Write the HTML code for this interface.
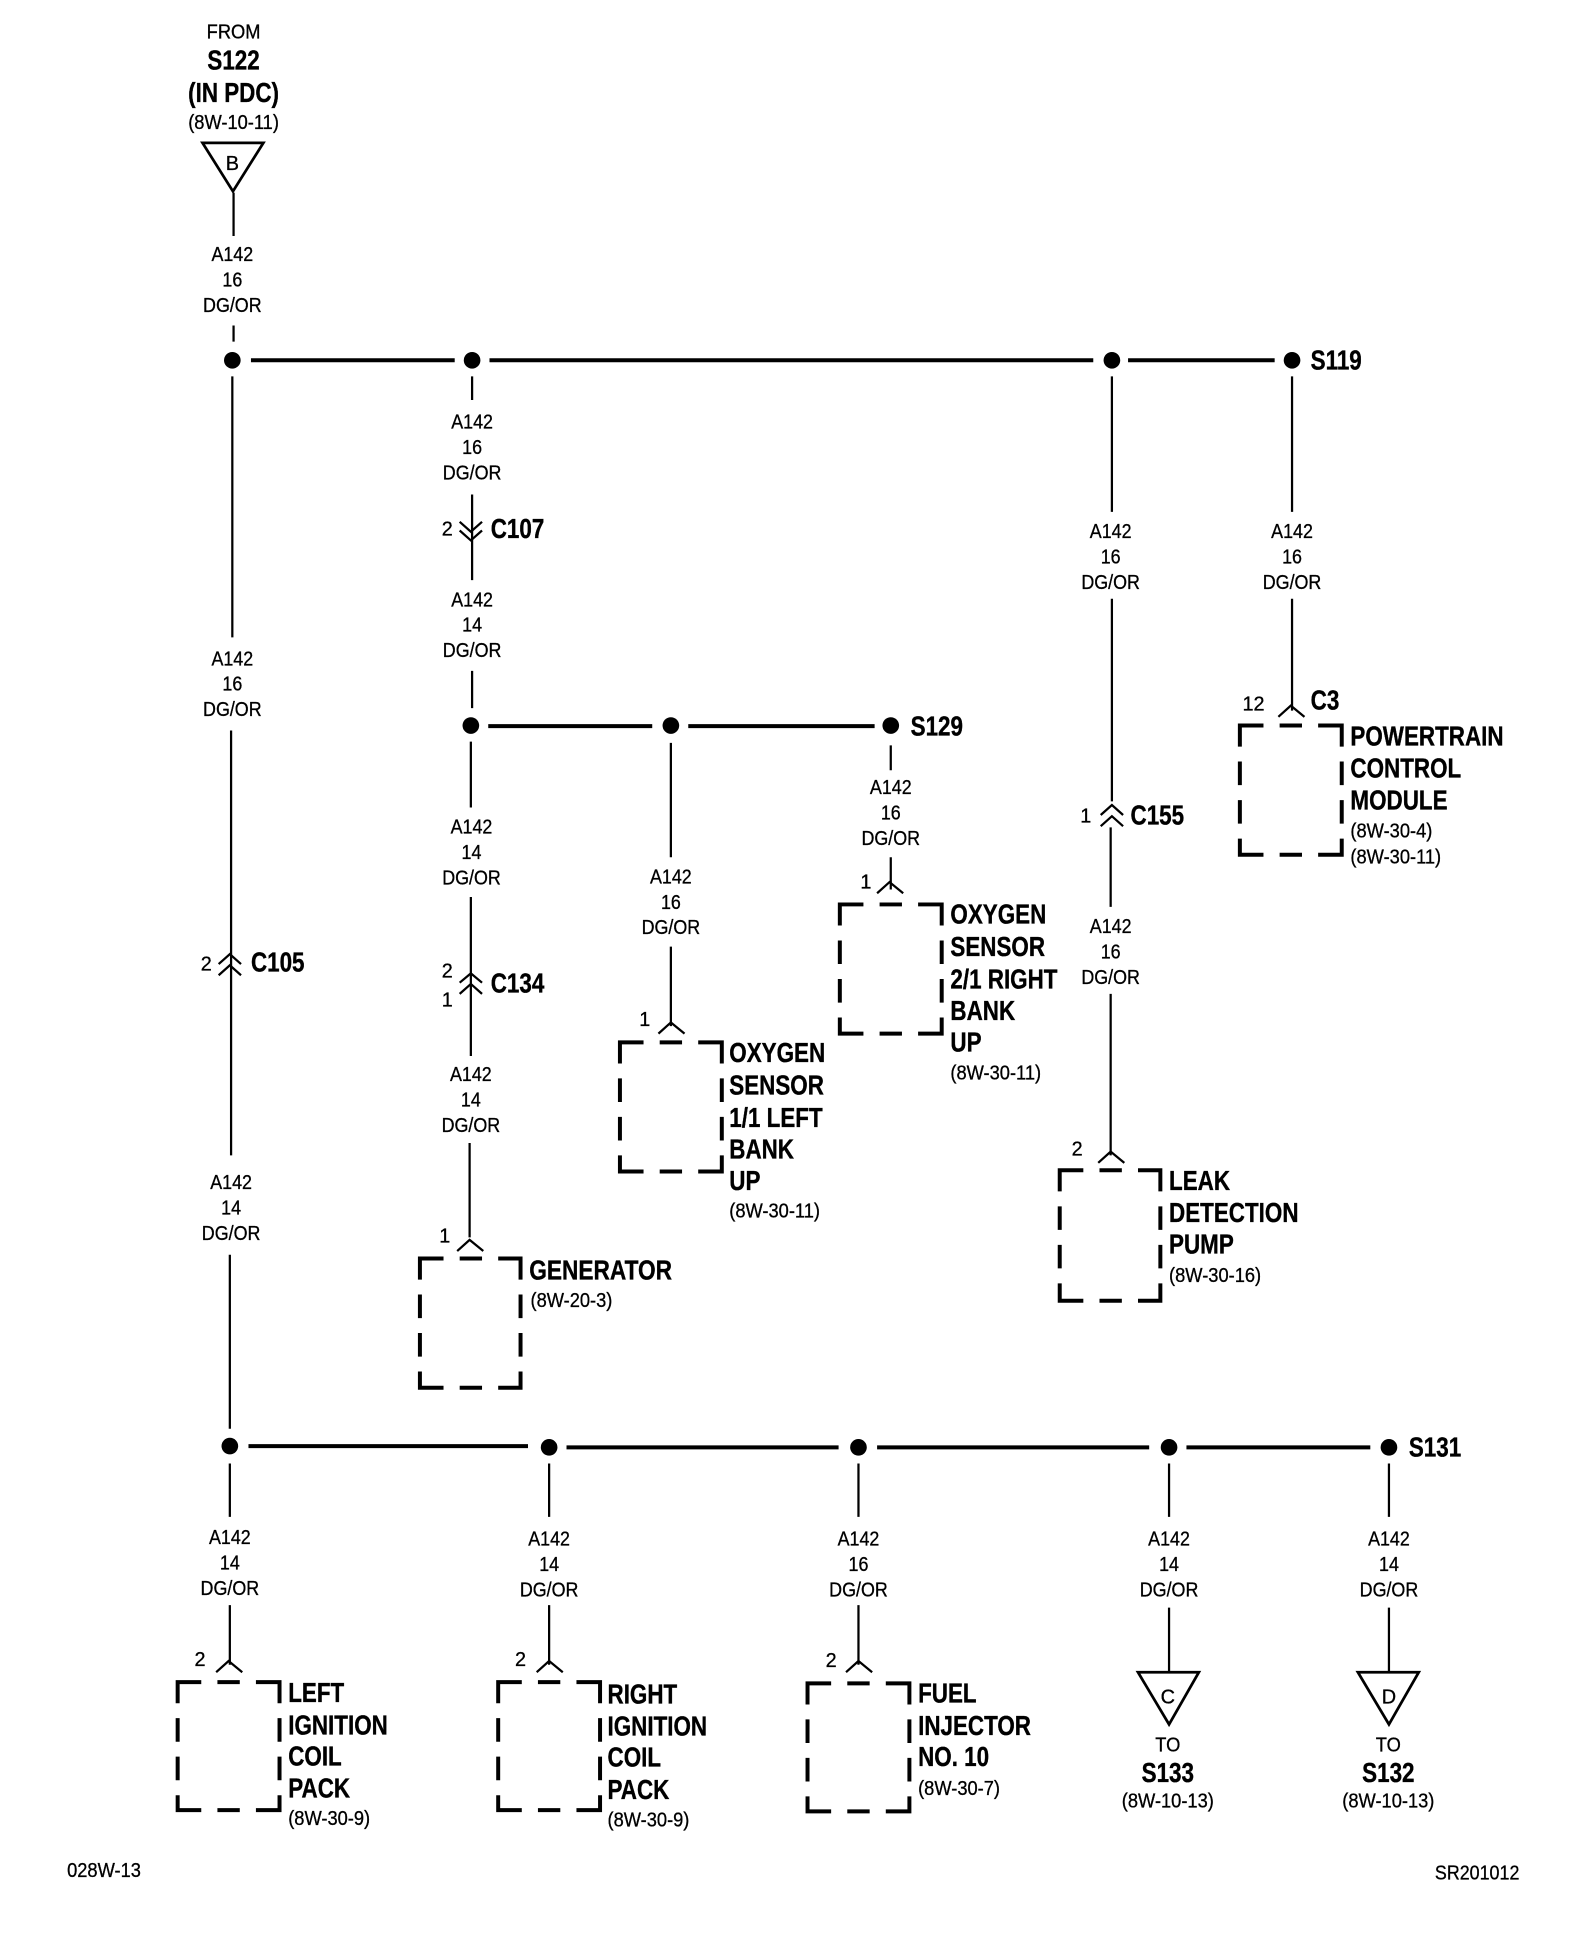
<!DOCTYPE html>
<html><head><meta charset="utf-8"><style>
html,body{margin:0;padding:0;background:#fff}
svg{display:block}
text{font-family:"Liberation Sans",Arial,sans-serif;fill:#000}
.r text,text.r{font-size:16px;stroke:#000;stroke-width:.25}
.b text{font-size:22px;font-weight:bold;stroke:#000;stroke-width:.3}
.c text{text-anchor:middle}
.w{stroke:#000;stroke-width:1.8;fill:none}
.h{stroke:#000;stroke-width:3.2;fill:none}
.t{stroke:#000;stroke-width:2.2;fill:none}
.bx{stroke:#000;stroke-width:3.2;fill:none}
</style></head><body>
<svg xmlns="http://www.w3.org/2000/svg" width="1584" height="1948" viewBox="0 0 1275 1568">
<rect width="1275" height="1568" fill="#fff"/>

<!-- horizontal buses -->
<path class="h" d="M202 290H366M394 290H880M908 290H1026M393 584.500H525M554 584.500H704M200 1164H425M456 1165H675M706 1165H925M955 1165H1103"/>
<g fill="#000">
<circle cx="187" cy="290" r="6.7"/><circle cx="380" cy="290" r="6.7"/><circle cx="895" cy="290" r="6.7"/><circle cx="1040" cy="290" r="6.7"/>
<circle cx="379" cy="584" r="6.7"/><circle cx="540" cy="584" r="6.7"/><circle cx="717" cy="584" r="6.7"/>
<circle cx="185" cy="1164" r="6.7"/><circle cx="442" cy="1165" r="6.7"/><circle cx="691" cy="1165" r="6.7"/><circle cx="941" cy="1165" r="6.7"/><circle cx="1118" cy="1165" r="6.7"/>
</g>

<!-- vertical wires -->
<path class="w" d="M188 155V190M188 262V275M187 303V513M186 588V930M185 1010V1150
M380 303V322M380 398V467M380 540V570M379 597V650M379 722V850M378 920V996
M540 598V690M540 762V826M717 600V620M717 690V716
M895 303V412M895 482V645M894 666V730M894 800V930M1040 303V412M1040 482V572
M185 1178V1221M442 1178V1221M691 1178V1221M941 1178V1221M1118 1178V1221
M185 1292V1340M442 1292V1340M691 1292V1340M941 1294V1346M1118 1294V1346"/>

<!-- connector chevrons -->
<path class="w" d="M370 420L379 428L388 420M370 427L379 435L388 427
M176 776L185 768L194 776M176 785L185 777L194 785
M370 791L379 783.5L388 791M370 800L379 792L388 800
M886 656L895 648L904 656M886 665L895 657L904 665
M530 832L540 823L551 832M706 719L716 710L727 719M884 936L894 927L905 936M1029 577L1039 568L1050 577
M368 1007L378 998L389 1007M174 1346L184 1337L195 1346M432 1346L442 1337L453 1346M681 1346L691 1337L702 1346"/>

<!-- triangles -->
<path class="t" d="M163 115H212L187.5 154ZM916 1346H965L941 1388ZM1093 1346H1142L1118 1388Z"/>

<!-- dashed boxes -->
<g class="bx">
<path transform="translate(338 1013)" d="M0 17V0H19M32 0H50M63 0H81V17M81 29V48M81 60V79M81 91V104H63M50 104H32M19 104H0V91M0 79V60M0 48V29"/>
<path transform="translate(499 839)" d="M0 17V0H19M32 0H50M63 0H82V17M82 29V48M82 60V79M82 91V104H63M50 104H32M19 104H0V91M0 79V60M0 48V29"/>
<path transform="translate(676 728)" d="M0 17V0H19M32 0H50M63 0H82V17M82 29V48M82 60V79M82 91V104H63M50 104H32M19 104H0V91M0 79V60M0 48V29"/>
<path transform="translate(853 942)" d="M0 17V0H19M32 0H50M63 0H81V17M81 29V48M81 60V79M81 91V105H63M50 105H32M19 105H0V91M0 79V60M0 48V29"/>
<path transform="translate(998 584)" d="M0 17V0H19M32 0H50M63 0H82V17M82 29V48M82 60V79M82 91V104H63M50 104H32M19 104H0V91M0 79V60M0 48V29"/>
<path transform="translate(143 1354)" d="M0 17V0H19M32 0H50M63 0H82V17M82 29V48M82 60V79M82 91V103H63M50 103H32M19 103H0V91M0 79V60M0 48V29"/>
<path transform="translate(401 1354)" d="M0 17V0H19M32 0H50M63 0H82V17M82 29V48M82 60V79M82 91V103H63M50 103H32M19 103H0V91M0 79V60M0 48V29"/>
<path transform="translate(650 1355)" d="M0 17V0H19M32 0H50M63 0H82V17M82 29V48M82 60V79M82 91V103H63M50 103H32M19 103H0V91M0 79V60M0 48V29"/>
</g>

<!-- wire labels -->
<g class="r c">
<g transform="translate(187 210) scale(.9 1)"><text>A142</text><text y="20.5">16</text><text y="41">DG/OR</text></g>
<g transform="translate(380 345) scale(.9 1)"><text>A142</text><text y="20.5">16</text><text y="41">DG/OR</text></g>
<g transform="translate(380 488) scale(.9 1)"><text>A142</text><text y="20.5">14</text><text y="41">DG/OR</text></g>
<g transform="translate(379.500 671) scale(.9 1)"><text>A142</text><text y="20.5">14</text><text y="41">DG/OR</text></g>
<g transform="translate(379 870) scale(.9 1)"><text>A142</text><text y="20.5">14</text><text y="41">DG/OR</text></g>
<g transform="translate(187 535.500) scale(.9 1)"><text>A142</text><text y="20.5">16</text><text y="41">DG/OR</text></g>
<g transform="translate(186 957) scale(.9 1)"><text>A142</text><text y="20.5">14</text><text y="41">DG/OR</text></g>
<g transform="translate(540 711) scale(.9 1)"><text>A142</text><text y="20.5">16</text><text y="41">DG/OR</text></g>
<g transform="translate(717 639) scale(.9 1)"><text>A142</text><text y="20.5">16</text><text y="41">DG/OR</text></g>
<g transform="translate(894 433) scale(.9 1)"><text>A142</text><text y="20.5">16</text><text y="41">DG/OR</text></g>
<g transform="translate(1040 433) scale(.9 1)"><text>A142</text><text y="20.5">16</text><text y="41">DG/OR</text></g>
<g transform="translate(894 751) scale(.9 1)"><text>A142</text><text y="20.5">16</text><text y="41">DG/OR</text></g>
<g transform="translate(185 1243) scale(.9 1)"><text>A142</text><text y="20.5">14</text><text y="41">DG/OR</text></g>
<g transform="translate(442 1244) scale(.9 1)"><text>A142</text><text y="20.5">14</text><text y="41">DG/OR</text></g>
<g transform="translate(691 1244) scale(.9 1)"><text>A142</text><text y="20.5">16</text><text y="41">DG/OR</text></g>
<g transform="translate(941 1244) scale(.9 1)"><text>A142</text><text y="20.5">14</text><text y="41">DG/OR</text></g>
<g transform="translate(1118 1244) scale(.9 1)"><text>A142</text><text y="20.5">14</text><text y="41">DG/OR</text></g>

<!-- pin numbers -->
<text x="360" y="431">2</text><text x="166" y="781">2</text><text x="360" y="787">2</text><text x="360" y="810">1</text>
<text x="874" y="662">1</text><text x="519" y="826">1</text><text x="697" y="715">1</text><text x="867" y="930">2</text>
<text x="1009" y="572">12</text><text x="358" y="1000">1</text><text x="161" y="1341">2</text><text x="419" y="1341">2</text><text x="669" y="1342">2</text>

<!-- triangle letters -->
<text x="187" y="137">B</text><text x="940" y="1371">C</text><text x="1118" y="1371">D</text>

<!-- off-page refs -->
<g transform="translate(188 31) scale(.92 1)"><text>FROM</text></g>
<g transform="translate(188 104) scale(.92 1)"><text>(8W-10-11)</text></g>
<g transform="translate(940 1410) scale(.92 1)"><text>TO</text><text y="45">(8W-10-13)</text></g>
<g transform="translate(1117.500 1410) scale(.92 1)"><text>TO</text><text y="45">(8W-10-13)</text></g>
</g>

<g class="b c">
<g transform="translate(188 56) scale(.82 1)"><text>S122</text><text y="26">(IN PDC)</text></g>
<g transform="translate(940 1434.500) scale(.82 1)"><text>S133</text></g>
<g transform="translate(1117.500 1434.500) scale(.82 1)"><text>S132</text></g>
</g>

<!-- bold left labels -->
<g class="b">
<g transform="translate(1055 297.500) scale(.82 1)"><text>S119</text></g>
<g transform="translate(733 592) scale(.82 1)"><text>S129</text></g>
<g transform="translate(1134 1172.500) scale(.82 1)"><text>S131</text></g>
<g transform="translate(395 433) scale(.82 1)"><text>C107</text></g>
<g transform="translate(202 782) scale(.82 1)"><text>C105</text></g>
<g transform="translate(395 799) scale(.82 1)"><text>C134</text></g>
<g transform="translate(910 663.500) scale(.82 1)"><text>C155</text></g>
<g transform="translate(1055 571) scale(.82 1)"><text>C3</text></g>
<g transform="translate(426 1030) scale(.83 1)"><text>GENERATOR</text></g>
<g transform="translate(587 855) scale(.82 1)"><text>OXYGEN</text><text y="26">SENSOR</text><text y="52">1/1 LEFT</text><text y="77.500">BANK</text><text y="103">UP</text></g>
<g transform="translate(765 743.500) scale(.82 1)"><text>OXYGEN</text><text y="26">SENSOR</text><text y="52">2/1 RIGHT</text><text y="77.500">BANK</text><text y="103">UP</text></g>
<g transform="translate(941 958) scale(.82 1)"><text>LEAK</text><text y="25.500">DETECTION</text><text y="51">PUMP</text></g>
<g transform="translate(1087 600) scale(.82 1)"><text>POWERTRAIN</text><text y="26">CONTROL</text><text y="51.500">MODULE</text></g>
<g transform="translate(232 1370) scale(.82 1)"><text>LEFT</text><text y="26">IGNITION</text><text y="51">COIL</text><text y="77">PACK</text></g>
<g transform="translate(489 1371) scale(.82 1)"><text>RIGHT</text><text y="26">IGNITION</text><text y="51">COIL</text><text y="77">PACK</text></g>
<g transform="translate(739 1370.500) scale(.82 1)"><text>FUEL</text><text y="26">INJECTOR</text><text y="51">NO. 10</text></g>
</g>

<!-- regular left labels -->
<g class="r">
<g transform="translate(427 1052) scale(.92 1)"><text>(8W-20-3)</text></g>
<g transform="translate(587 980) scale(.92 1)"><text>(8W-30-11)</text></g>
<g transform="translate(765 869) scale(.92 1)"><text>(8W-30-11)</text></g>
<g transform="translate(941 1032) scale(.92 1)"><text>(8W-30-16)</text></g>
<g transform="translate(1087 674) scale(.92 1)"><text>(8W-30-4)</text><text y="21">(8W-30-11)</text></g>
<g transform="translate(232 1469) scale(.92 1)"><text>(8W-30-9)</text></g>
<g transform="translate(489 1470) scale(.92 1)"><text>(8W-30-9)</text></g>
<g transform="translate(739 1445) scale(.92 1)"><text>(8W-30-7)</text></g>
<g transform="translate(54 1511) scale(.92 1)"><text>028W-13</text></g>
<g transform="translate(1155 1513) scale(.9 1)"><text>SR201012</text></g>
</g>
</svg>
</body></html>
